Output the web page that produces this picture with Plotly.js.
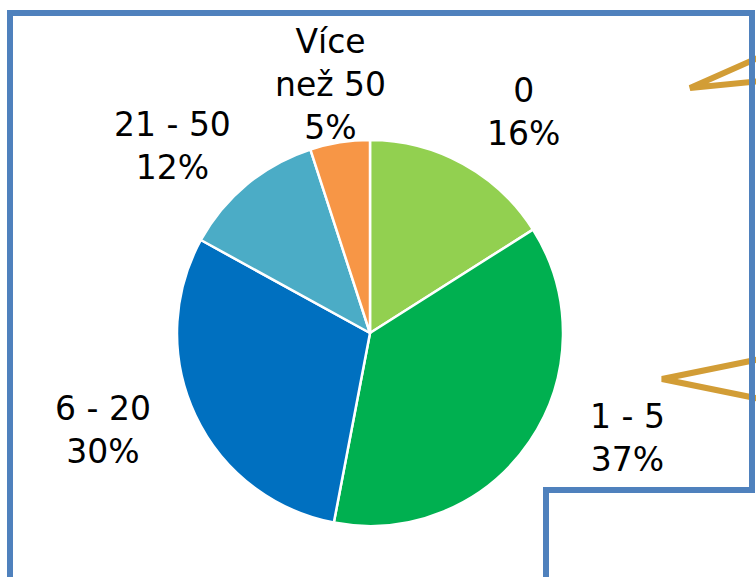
<!DOCTYPE html>
<html>
<head>
<meta charset="utf-8">
<script src="https://cdn.plot.ly/plotly-3.0.1.min.js"></script>
<style>html,body{margin:0;padding:0;background:#fff;}#chart{width:756px;height:577px;}</style>
</head>
<body>
<div id="chart"></div>
<script>
// Data
var categories = ["0", "1 - 5", "6 - 20", "21 - 50", "Více<br>než 50"];
var values = [16, 37, 30, 12, 5];
var colors = ["#92D050", "#00B050", "#0070C0", "#4BACC6", "#F79646"];

// Label placement (pixel centres in the 756x577 canvas)
var labelPos = [[523, 112], [627, 438], [103, 430], [172, 146], [330, 84]];

var W = 756, H = 577;
function px(x) { return x / W; }
function py(y) { return 1 - y / H; }

var total = values.reduce(function (a, b) { return a + b; }, 0);
var annotations = categories.map(function (c, i) {
  return {
    xref: "paper", yref: "paper",
    x: px(labelPos[i][0]), y: py(labelPos[i][1]),
    xanchor: "center", yanchor: "middle",
    text: c + "<br>" + Math.round(values[i] / total * 100) + "%",
    showarrow: false, align: "center",
    font: {family: "DejaVu Sans", size: 33, color: "#000000"}
  };
});

function pathOf(pts) {
  return pts.map(function (p, i) { return (i ? "L" : "M") + px(p[0]) + "," + py(p[1]); }).join(" ");
}

var shapes = [
  {type: "path", xref: "paper", yref: "paper", path: pathOf([[760, 57], [690, 88], [760, 81]]),
   line: {color: "#D29D36", width: 6}, layer: "above"},
  {type: "path", xref: "paper", yref: "paper", path: pathOf([[760, 359], [662, 379], [760, 399]]),
   line: {color: "#D29D36", width: 6}, layer: "above"},
  {type: "path", xref: "paper", yref: "paper",
   path: pathOf([[10, 580], [10, 13], [752, 13], [752, 490], [546, 490], [546, 580]]),
   line: {color: "#4F81BD", width: 6}, layer: "above"}
];

var trace = {
  type: "pie",
  labels: categories,
  values: values,
  sort: false,
  direction: "clockwise",
  rotation: 0,
  marker: {colors: colors, line: {color: "#FFFFFF", width: 2.5}},
  textinfo: "none",
  hoverinfo: "skip",
  domain: {x: [px(177), px(563)], y: [py(526), py(140)]}
};

var layout = {
  width: W, height: H,
  margin: {l: 0, r: 0, t: 0, b: 0},
  paper_bgcolor: "#FFFFFF",
  showlegend: false,
  annotations: annotations,
  shapes: shapes
};

Plotly.newPlot("chart", [trace], layout, {staticPlot: true, displayModeBar: false});
</script>
</body>
</html>
